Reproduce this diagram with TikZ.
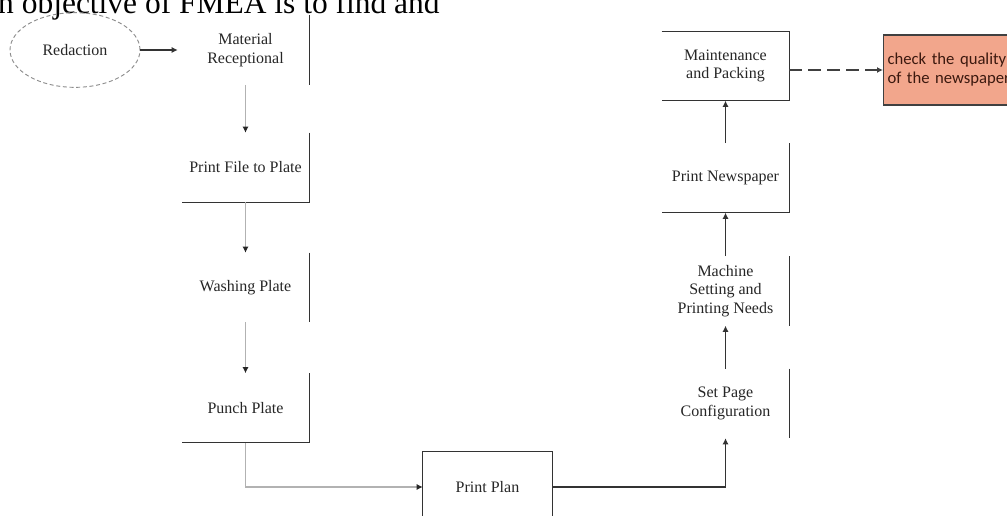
\documentclass[tikz,border=0pt]{standalone}
\usepackage{fontspec}
\setmainfont{Liberation Serif}
\newfontfamily\calib{Carlito}
\usetikzlibrary{arrows.meta,positioning,shapes.geometric}
\definecolor{salmon}{RGB}{242,166,140}
\definecolor{inkbrown}{RGB}{60,25,15}
\tikzset{
  block/.style={rectangle, minimum width=95.25pt, minimum height=51.75pt, inner sep=0pt, align=center, text=black!85, font=\fontsize{12}{14}\selectfont},
  oval/.style={ellipse, draw=black!45, dash pattern=on 3pt off 2pt, line width=0.7pt, minimum width=97.5pt, minimum height=56pt, inner sep=0pt, text=black!85, font=\fontsize{12}{14}\selectfont},
  outcome/.style={rectangle, draw=black!75, line width=0.8pt, fill=salmon, text width=114pt, inner xsep=3pt, minimum height=52.5pt, align=left, text=inkbrown, font=\calib\fontsize{12.5}{14.3}\selectfont},
  edge/.style={line width=1pt, draw=black!80},
  signal/.style={-{Latex[length=4.5pt,width=4.5pt]}, line width=0.8pt, draw=black!80},
  faint/.style={-{Latex[length=4.5pt,width=4.5pt,color=black!85]}, line width=0.8pt, draw=black!30},
  dashsig/.style={-{Latex[length=4.5pt,width=4.5pt]}, line width=0.9pt, draw=black!75, dash pattern=on 9.75pt off 4.5pt},
  note/.style={font=\fontsize{23.6}{28}\selectfont, inner sep=0pt}
}

\begin{document}
\begin{tikzpicture}[x=0.75pt, y=-0.75pt]
  \useasboundingbox (0,0) rectangle (1007,516);
  \clip (0,0) rectangle (1007,516);

  % page text above the figure
  \node[note, anchor=base west] (pagetext) at (-16,14) {an objective of FMEA is to find and};

  % left column
  \node[oval] (redaction) at (75,50) {Redaction};
  \node[block] (matrec) at (245.5,50) {Material\\Receptional};
  \node[block] (pftp) at (245.5,167.5) {Print File to Plate};
  \node[block] (washing) at (245.5,287.5) {Washing Plate};
  \node[block] (punch) at (245.5,408) {Punch Plate};
  \node[block, minimum width=96.75pt, minimum height=52.5pt] (printplan) at (487.5,487) {Print Plan};

  % right column
  \node[block] (setpage) at (725.5,403.5) {Set Page\\Configuration};
  \node[block] (machine) at (725.5,291) {Machine\\Setting and\\Printing Needs};
  \node[block] (printnews) at (725.5,178) {Print Newspaper};
  \node[block] (maint) at (725.5,66) {Maintenance\\and Packing};
  \node[outcome, anchor=west] (check) at (883,70) {check the quality\\of the newspaper};

  % visible box edges
  \draw[edge] (matrec.north east) -- (matrec.south east);
  \draw[edge] (pftp.north east) -- (pftp.south east) -- (pftp.south west);
  \draw[edge] (washing.north east) -- (washing.south east);
  \draw[edge] (punch.north east) -- (punch.south east) -- (punch.south west);
  \draw[edge] (printplan.south west) -- (printplan.north west) -- (printplan.north east) -- (printplan.south east);
  \draw[edge] (setpage.north east) -- (setpage.south east);
  \draw[edge] (machine.north east) -- (machine.south east);
  \draw[edge] (printnews.north east) -- (printnews.south east) -- (printnews.south west);
  \draw[edge] (maint.north west) -- (maint.north east) -- (maint.south east) -- (maint.south west);

  % connectors
  \draw[signal, shorten >=3pt] (redaction) -- (matrec);
  \draw[faint] (matrec) -- (pftp);
  \draw[faint] (pftp) -- (washing);
  \draw[faint] (washing) -- (punch);
  \draw[faint] (punch.south) |- (printplan.west);
  \draw[signal] (printplan.east) -| (setpage.south);
  \draw[signal] (setpage) -- (machine);
  \draw[signal] (machine) -- (printnews);
  \draw[signal] (printnews) -- (maint);
  \draw[dashsig] (maint.east |- check.west) -- (check.west);
\end{tikzpicture}
\end{document}
